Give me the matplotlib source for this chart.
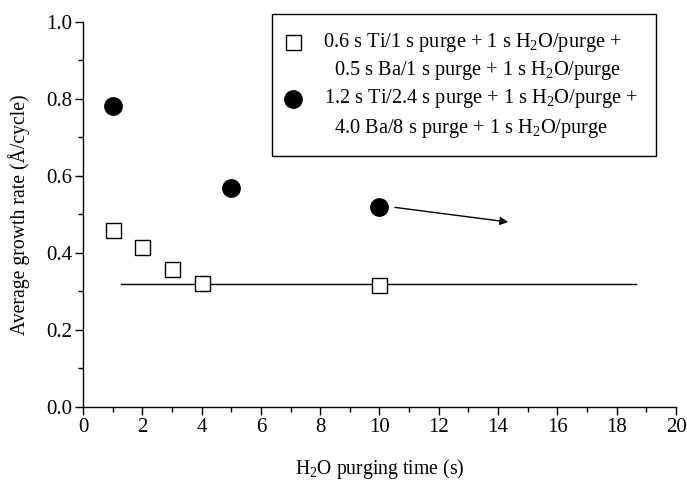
import matplotlib
matplotlib.use("Agg")
import matplotlib.pyplot as plt
from matplotlib.ticker import MultipleLocator
from matplotlib.patches import Rectangle

plt.rcParams["font.family"] = ["Liberation Serif", "DejaVu Serif"]
plt.rcParams["mathtext.fontset"] = "custom"
plt.rcParams["mathtext.rm"] = "Liberation Serif"
plt.rcParams["mathtext.it"] = "Liberation Serif:italic"

# Recipe 1: short precursor pulses
purge_short = [1, 2, 3, 4, 10]
rate_short = [0.459, 0.415, 0.358, 0.322, 0.317]

# Recipe 2: long precursor pulses
purge_long = [1, 5, 10]
rate_long = [0.782, 0.568, 0.518]

# Saturated growth-rate level
sat_x = [1.27, 18.65]
sat_y = [0.320, 0.320]

# Trend arrow
arrow_start = (10.52, 0.518)
arrow_end = (14.34, 0.480)

legend_lines = [
    "0.6 s Ti/1 s purge + 1 s H$_2$O/purge +",
    "0.5 s Ba/1 s purge + 1 s H$_2$O/purge",
    "1.2 s Ti/2.4 s purge + 1 s H$_2$O/purge +",
    "4.0 Ba/8 s purge + 1 s H$_2$O/purge",
]

fig = plt.figure(figsize=(6.87, 4.80), dpi=100)
ax = fig.add_axes([0.1208, 0.152, 0.8632, 0.803])

ax.plot(sat_x, sat_y, color="black", lw=1.0, zorder=1)
ax.plot(purge_short, rate_short, ls="none", marker="s", ms=10.8,
        mfc="white", mec="black", mew=1.0, zorder=3)
ax.plot(purge_long, rate_long, ls="none", marker="o", ms=12.5,
        mfc="black", mec="black", zorder=3)
ax.annotate("", xy=arrow_end, xytext=arrow_start,
            arrowprops=dict(arrowstyle="-|>", color="black", lw=1.0,
                            mutation_scale=12, shrinkA=0, shrinkB=0))

ax.set_xlim(0, 20)
ax.set_ylim(0.0, 1.0)
ax.xaxis.set_major_locator(MultipleLocator(2))
ax.xaxis.set_minor_locator(MultipleLocator(1))
ax.yaxis.set_major_locator(MultipleLocator(0.2))
ax.yaxis.set_minor_locator(MultipleLocator(0.1))
ax.yaxis.set_major_formatter(matplotlib.ticker.FormatStrFormatter("%.1f"))

for side in ("top", "right"):
    ax.spines[side].set_visible(False)
for side in ("left", "bottom"):
    ax.spines[side].set_linewidth(1.0)

ax.tick_params(which="major", direction="out", length=6, width=1.0,
               labelsize=15, pad=2)
ax.tick_params(which="minor", direction="out", length=3.5, width=1.0)

ax.set_xlabel("H$_2$O purging time (s)", fontsize=14.2, labelpad=14)
ax.set_ylabel("Average growth rate (Å/cycle)", fontsize=14.2, labelpad=11)

# Legend box drawn in figure pixel-fraction coordinates
W, H = 687, 480
def fx(px):
    return px / W
def fy(py):
    return 1 - py / H

box = Rectangle((fx(272), fy(156)), fx(656) - fx(272), fy(14) - fy(156),
                transform=fig.transFigure, fill=False, ec="black", lw=1.0)
fig.add_artist(box)

line_y = [42, 71, 99, 128]
line_x = [472, 478, 481, 471]
for txt, px, py in zip(legend_lines, line_x, line_y):
    fig.text(fx(px), fy(py), txt, ha="center", va="center", fontsize=14.7)

fig.add_artist(matplotlib.lines.Line2D([fx(293)], [fy(42)], marker="s", ms=10.8,
               mfc="white", mec="black", mew=1.0, transform=fig.transFigure))
fig.add_artist(matplotlib.lines.Line2D([fx(293)], [fy(99)], marker="o", ms=12.5,
               mfc="black", mec="black", transform=fig.transFigure))

fig.savefig("out.png", dpi=100)
